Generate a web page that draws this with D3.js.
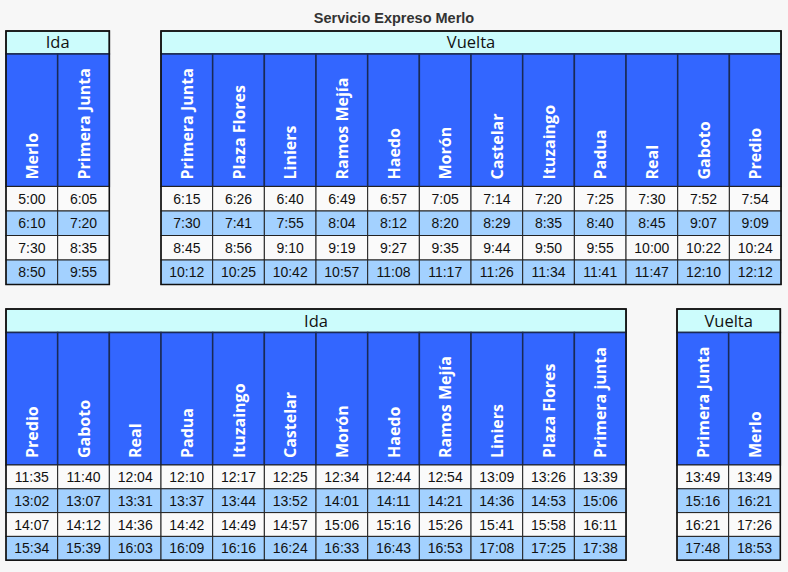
<!DOCTYPE html>
<html><head><meta charset="utf-8">
<script src="https://cdn.jsdelivr.net/npm/d3@7"></script>
<style>body{margin:0;background:#f7f7f7;}svg{display:block;}</style>
</head><body>
<script>
const chartTitle = "Servicio Expreso Merlo";

const idaTopTitle = "Ida";
const idaTopStations = ["Merlo","Primera Junta"];
const idaTopTimes = [
  ["5:00","6:05"],
  ["6:10","7:20"],
  ["7:30","8:35"],
  ["8:50","9:55"]
];

const vueltaTopTitle = "Vuelta";
const vueltaTopStations = ["Primera Junta","Plaza Flores","Liniers","Ramos Mejía","Haedo","Morón","Castelar","Ituzaingo","Padua","Real","Gaboto","Predio"];
const vueltaTopTimes = [
  ["6:15","6:26","6:40","6:49","6:57","7:05","7:14","7:20","7:25","7:30","7:52","7:54"],
  ["7:30","7:41","7:55","8:04","8:12","8:20","8:29","8:35","8:40","8:45","9:07","9:09"],
  ["8:45","8:56","9:10","9:19","9:27","9:35","9:44","9:50","9:55","10:00","10:22","10:24"],
  ["10:12","10:25","10:42","10:57","11:08","11:17","11:26","11:34","11:41","11:47","12:10","12:12"]
];

const idaBottomTitle = "Ida";
const idaBottomStations = ["Predio","Gaboto","Real","Padua","Ituzaingo","Castelar","Morón","Haedo","Ramos Mejía","Liniers","Plaza Flores","Primera junta"];
const idaBottomTimes = [
  ["11:35","11:40","12:04","12:10","12:17","12:25","12:34","12:44","12:54","13:09","13:26","13:39"],
  ["13:02","13:07","13:31","13:37","13:44","13:52","14:01","14:11","14:21","14:36","14:53","15:06"],
  ["14:07","14:12","14:36","14:42","14:49","14:57","15:06","15:16","15:26","15:41","15:58","16:11"],
  ["15:34","15:39","16:03","16:09","16:16","16:24","16:33","16:43","16:53","17:08","17:25","17:38"]
];

const vueltaBottomTitle = "Vuelta";
const vueltaBottomStations = ["Primera Junta","Merlo"];
const vueltaBottomTimes = [
  ["13:49","13:49"],
  ["15:16","16:21"],
  ["16:21","17:26"],
  ["17:48","18:53"]
];

const W = 788, H = 572;
const colW = 51.67;
const svg = d3.select("body").append("svg").attr("width", W).attr("height", H);
svg.append("rect").attr("width", W).attr("height", H).attr("fill", "#f7f7f7");

svg.append("text").attr("x", 394).attr("y", 23).attr("text-anchor", "middle")
  .attr("font-family", "Liberation Sans, Arial, sans-serif").attr("font-weight", "bold")
  .attr("font-size", 14.5).attr("fill", "#333").text(chartTitle);

function drawTable(x0, y0, titleH, headH, rowH, title, stations, times) {
  const g = svg.append("g");
  const width = colW * stations.length;
  const x = d3.scaleBand().domain(stations.map((d, i) => i)).range([x0, x0 + width]);
  const yTop = y0 + titleH + headH;
  const y = d3.scaleBand().domain(times.map((d, i) => i)).range([yTop, yTop + rowH * times.length]);

  // title row
  g.append("rect").attr("x", x0).attr("y", y0).attr("width", width).attr("height", titleH)
    .attr("fill", "#ccfcfc").attr("stroke", "#1a1a1a").attr("stroke-width", 1.5);
  g.append("text").attr("x", x0 + width / 2).attr("y", y0 + titleH - 6)
    .attr("text-anchor", "middle").attr("font-family", "Open Sans, sans-serif")
    .attr("font-size", 16.5).attr("fill", "#111").text(title);

  // header cells
  const hc = g.selectAll(".h").data(stations).enter().append("g");
  hc.append("rect").attr("x", (d, i) => x(i)).attr("y", y0 + titleH)
    .attr("width", x.bandwidth()).attr("height", headH)
    .attr("fill", "#3366ff").attr("stroke", "#1a2a55").attr("stroke-width", 1.5);
  hc.append("text")
    .attr("transform", (d, i) => `translate(${x(i) + x.bandwidth() / 2 + 6},${y0 + titleH + headH - 7}) rotate(-90)`)
    .attr("font-family", "Open Sans, sans-serif").attr("font-weight", "bold")
    .attr("font-size", 16).attr("fill", "#fff").text(d => d);

  // data cells
  times.forEach((row, r) => {
    const rg = g.append("g");
    rg.selectAll("rect").data(row).enter().append("rect")
      .attr("x", (d, i) => x(i)).attr("y", y(r)).attr("width", x.bandwidth()).attr("height", y.bandwidth())
      .attr("fill", r % 2 === 0 ? "#fafafa" : "#a3d1ff").attr("stroke", "#222").attr("stroke-width", 1);
    rg.selectAll("text").data(row).enter().append("text")
      .attr("x", (d, i) => x(i) + x.bandwidth() / 2).attr("y", y(r) + y.bandwidth() / 2 + 5)
      .attr("text-anchor", "middle").attr("font-family", "Liberation Sans, Arial, sans-serif")
      .attr("font-size", 14).attr("fill", "#111").text(d => d);
  });

  // outer border
  g.append("rect").attr("x", x0).attr("y", y0).attr("width", width)
    .attr("height", titleH + headH + rowH * times.length)
    .attr("fill", "none").attr("stroke", "#111").attr("stroke-width", 1.5);
}

drawTable(6, 31, 23, 132.5, 24.5, idaTopTitle, idaTopStations, idaTopTimes);
drawTable(161, 31, 23, 132.5, 24.5, vueltaTopTitle, vueltaTopStations, vueltaTopTimes);
drawTable(6, 309, 23.5, 132.5, 23.8, idaBottomTitle, idaBottomStations, idaBottomTimes);
drawTable(677, 309, 23.5, 132.5, 23.8, vueltaBottomTitle, vueltaBottomStations, vueltaBottomTimes);
</script>
</body></html>
